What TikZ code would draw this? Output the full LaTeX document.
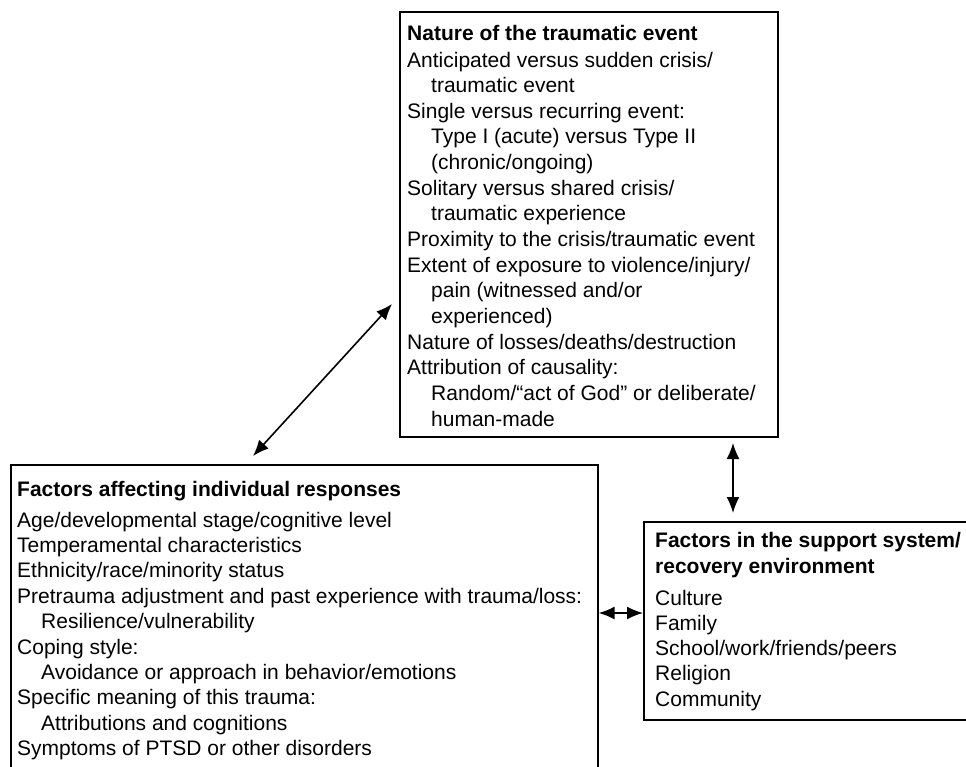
\documentclass[tikz,border=0pt]{standalone}
\usepackage{fontspec}
\setmainfont{Liberation Sans}
\usetikzlibrary{arrows.meta}
\begin{document}
\begin{tikzpicture}[x=1pt,y=-1pt,
  box/.style={draw, line width=1.6pt, anchor=north west, inner sep=0pt},
  txt/.style={anchor=base west, inner sep=0pt, font=\fontsize{21}{25}\selectfont},
  ttl/.style={anchor=base west, inner sep=0pt, font=\fontsize{21}{25}\selectfont\bfseries},
  tip/.tip={Latex[length=16pt,width=13pt]},
  link/.style={line width=1.6pt, tip-tip}]
\useasboundingbox (0,0) rectangle (966,766);
\clip (0,0) rectangle (966,766);
% boxes
\node[box, minimum width=378pt, minimum height=425pt] (event) at (399,11) {};
\node[box, minimum width=587pt, minimum height=400pt] (indiv) at (10,464) {};
\node[box, minimum width=400pt, minimum height=198pt] (support) at (643,521) {};
% top box text
\node[ttl] (e0) at (407,40) {Nature of the traumatic event};
\node[txt] (e1) at (407,67) {Anticipated versus sudden crisis/};
\node[txt] (e2) at (431,92.6) {traumatic event};
\node[txt] (e3) at (407,118.3) {Single versus recurring event:};
\node[txt] (e4) at (431,143.9) {Type I (acute) versus Type II};
\node[txt] (e5) at (431,169.6) {(chronic/ongoing)};
\node[txt] (e6) at (407,195.2) {Solitary versus shared crisis/};
\node[txt] (e7) at (431,220.8) {traumatic experience};
\node[txt] (e8) at (407,246.5) {Proximity to the crisis/traumatic event};
\node[txt] (e9) at (407,272.1) {Extent of exposure to violence/injury/};
\node[txt] (e10) at (431,297.8) {pain (witnessed and/or};
\node[txt] (e11) at (431,323.4) {experienced)};
\node[txt] (e12) at (407,349.0) {Nature of losses/deaths/destruction};
\node[txt] (e13) at (407,374.7) {Attribution of causality:};
\node[txt] (e14) at (431,400.3) {Random/“act of God” or deliberate/};
\node[txt] (e15) at (431,426.0) {human-made};
% left box text
\node[ttl] (i0) at (17,496) {Factors affecting individual responses};
\node[txt] (i1) at (17,527) {Age/developmental stage/cognitive level};
\node[txt] (i2) at (17,552.4) {Temperamental characteristics};
\node[txt] (i3) at (17,577.8) {Ethnicity/race/minority status};
\node[txt] (i4) at (17,603.2) {Pretrauma adjustment and past experience with trauma/loss:};
\node[txt] (i5) at (41,628.6) {Resilience/vulnerability};
\node[txt] (i6) at (17,654.0) {Coping style:};
\node[txt] (i7) at (41,679.4) {Avoidance or approach in behavior/emotions};
\node[txt] (i8) at (17,704.8) {Specific meaning of this trauma:};
\node[txt] (i9) at (41,730.2) {Attributions and cognitions};
\node[txt] (i10) at (17,755.6) {Symptoms of PTSD or other disorders};
% right box text
\node[ttl] (s0) at (655,547) {Factors in the support system/};
\node[ttl] (s1) at (655,573) {recovery environment};
\node[txt] (s2) at (655,605) {Culture};
\node[txt] (s3) at (655,630.2) {Family};
\node[txt] (s4) at (655,655.5) {School/work/friends/peers};
\node[txt] (s5) at (655,680.8) {Religion};
\node[txt] (s6) at (655,706) {Community};
% connectors
\coordinate (d1) at (253,456);
\coordinate (d2) at (392,304);
\draw[link] (d1) -- (d2);
\coordinate (v1) at (733,443);
\coordinate (v2) at (733,513);
\draw[link] (v1) -- (v2);
\draw[link] (indiv.east |- 0,613) -- (support.west |- 0,613);
\end{tikzpicture}
\end{document}
